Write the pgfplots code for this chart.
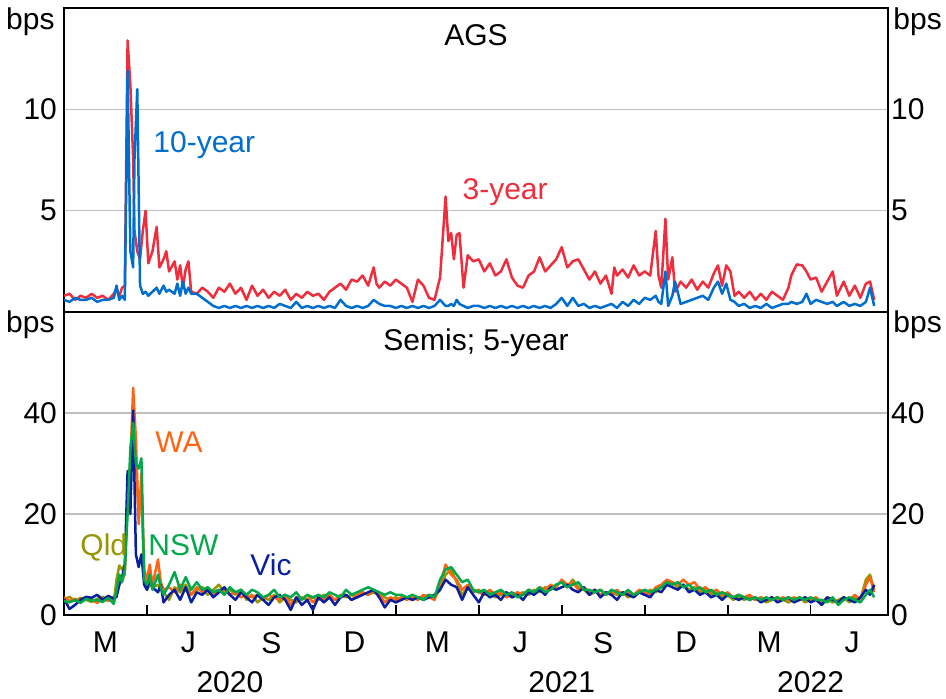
\documentclass[border=0pt]{standalone}
\usepackage{pgfplots}
\pgfplotsset{compat=1.18}
\usepackage{pgfplotstable}
\usepackage{fontspec}
\setmainfont{Liberation Sans}
\definecolor{cRed}{RGB}{240,45,60}
\definecolor{cBlue}{RGB}{0,110,205}
\definecolor{cWA}{RGB}{255,100,20}
\definecolor{cQld}{RGB}{150,150,0}
\definecolor{cNSW}{RGB}{0,170,75}
\definecolor{cVic}{RGB}{10,30,160}
\newcommand\f{\fontsize{15}{18}\selectfont}

\pgfplotstableread{
x r3 r10
0.0 0.8 0.6
0.2 0.9 0.5
0.4 0.6 0.7
0.6 0.8 0.6
0.8 0.7 0.6
1.0 0.9 0.7
1.2 0.7 0.5
1.4 0.8 0.6
1.6 0.6 0.6
1.8 0.9 0.7
1.9 1.1 1.3
2.0 0.8 0.6
2.1 1.2 0.8
2.2 1.3 0.6
2.3 13.4 11.9
2.4 11.2 3.0
2.5 7.6 2.2
2.55 4.0 7.6
2.65 3.0 11.0
2.75 2.6 1.3
2.85 4.0 0.9
2.95 5.0 1.0
3.05 2.4 0.8
3.2 3.0 1.0
3.35 4.2 1.2
3.45 2.2 0.9
3.6 2.6 1.3
3.7 3.0 1.0
3.8 2.0 1.1
4.0 2.5 0.9
4.1 1.6 1.4
4.2 2.3 0.8
4.3 1.2 1.5
4.4 2.1 0.9
4.5 2.5 1.2
4.6 1.0 0.9
4.8 0.9 0.9
5.0 1.2 0.7
5.2 1.0 0.5
5.4 0.7 0.3
5.6 1.2 0.2
5.8 1.0 0.3
6.0 1.4 0.2
6.2 0.9 0.3
6.4 1.2 0.2
6.6 0.6 0.3
6.8 1.3 0.2
7.0 0.8 0.3
7.2 1.1 0.2
7.4 0.7 0.3
7.6 1.0 0.2
7.8 0.8 0.4
8.0 1.1 0.3
8.2 0.6 0.2
8.4 0.9 0.5
8.6 0.7 0.2
8.8 1.0 0.3
9.0 0.8 0.2
9.2 0.9 0.3
9.4 0.6 0.2
9.6 1.0 0.3
9.8 1.2 0.2
10.0 1.4 0.6
10.2 1.1 0.3
10.4 1.6 0.2
10.6 1.5 0.3
10.8 1.8 0.2
11.0 1.3 0.3
11.2 2.2 0.6
11.3 1.4 0.5
11.4 1.2 0.4
11.6 1.5 0.3
11.8 1.3 0.3
12.0 1.6 0.2
12.2 1.4 0.3
12.4 1.2 0.2
12.6 0.5 0.3
12.8 1.6 0.2
13.0 1.3 0.3
13.2 0.7 0.2
13.4 0.6 0.3
13.6 1.7 0.6
13.8 5.7 0.3
13.9 3.5 0.3
14.0 3.9 0.4
14.1 2.6 0.3
14.2 3.8 0.6
14.3 3.9 0.4
14.45 1.2 0.3
14.6 2.8 0.2
14.8 2.5 0.3
15.0 2.6 0.3
15.2 2.0 0.2
15.4 2.4 0.3
15.6 1.8 0.2
15.8 2.0 0.3
16.0 2.6 0.2
16.2 1.7 0.3
16.4 1.3 0.2
16.6 1.2 0.3
16.8 1.8 0.2
17.0 2.0 0.3
17.2 2.7 0.2
17.4 2.0 0.3
17.6 2.3 0.2
17.8 2.6 0.4
18.0 3.2 0.7
18.2 2.2 0.3
18.4 2.5 0.7
18.6 2.6 0.3
18.8 2.1 0.4
19.0 1.6 0.2
19.2 2.0 0.3
19.4 1.4 0.2
19.6 1.8 0.3
19.8 0.9 0.4
19.9 2.2 0.3
20.0 1.8 0.2
20.2 2.1 0.5
20.4 1.7 0.3
20.6 2.3 0.6
20.8 1.8 0.4
21.0 2.0 0.7
21.2 1.8 0.6
21.4 4.0 0.8
21.5 1.8 0.5
21.6 1.2 0.4
21.75 4.6 2.0
21.85 1.6 0.3
22.0 2.7 0.8
22.1 1.0 1.5
22.3 1.5 0.4
22.5 1.2 0.5
22.7 1.6 0.6
22.9 1.1 0.7
23.1 1.5 0.8
23.3 1.2 0.6
23.5 1.9 1.2
23.65 2.3 1.5
23.8 1.3 0.9
23.95 2.3 1.4
24.1 2.0 0.6
24.25 0.8 0.5
24.4 1.0 0.3
24.6 0.7 0.4
24.8 1.0 0.2
25.0 0.6 0.3
25.2 0.9 0.2
25.4 0.6 0.4
25.6 1.0 0.2
25.8 0.8 0.3
26.0 0.6 0.4
26.2 1.2 0.4
26.3 1.8 0.5
26.5 2.35 0.4
26.7 2.3 0.5
26.85 2.0 0.9
27.0 1.6 0.4
27.2 1.7 0.6
27.4 1.0 0.5
27.6 1.5 0.4
27.8 2.0 0.5
27.95 0.8 0.3
28.2 1.5 0.5
28.4 0.8 0.3
28.6 1.3 0.4
28.8 0.7 0.3
29.0 1.4 0.5
29.15 1.5 1.2
29.3 0.6 0.3
}\ags

\pgfplotstableread{
x wa qld nsw vic
0.0 3.5 3.0 2.8 3.2
0.2 2.8 3.6 2.5 1.2
0.4 3.2 2.8 3.0 2.0
0.6 2.6 3.4 2.4 3.0
0.8 3.4 3.0 3.2 3.6
1.0 3.0 2.6 2.8 3.4
1.2 2.4 3.2 3.0 4.0
1.4 3.2 3.6 2.6 3.0
1.6 2.8 3.0 3.4 3.8
1.8 3.6 2.6 2.2 3.2
1.9 4.0 7.0 5.0 3.6
2.0 6.0 9.8 8.0 6.0
2.1 7.0 9.0 6.5 7.5
2.2 8.0 10.0 9.0 10.0
2.3 25.0 22.0 20.0 28.5
2.4 30.0 28.0 33.0 20.0
2.5 45.0 38.0 38.0 40.5
2.6 35.0 30.0 30.0 12.0
2.7 18.0 20.0 29.0 9.5
2.8 28.0 25.0 31.0 12.0
2.9 9.0 7.0 7.0 6.0
3.0 7.0 5.0 6.0 5.0
3.1 10.0 6.0 8.0 7.0
3.2 6.0 5.5 5.0 5.5
3.4 11.0 6.0 8.0 4.5
3.5 6.5 5.0 5.5 6.0
3.6 5.0 4.5 4.0 2.5
3.8 5.5 3.0 6.0 4.0
4.0 4.5 5.5 8.5 5.0
4.2 6.0 4.5 5.0 3.0
4.4 5.0 6.0 7.5 5.5
4.6 4.0 4.0 5.0 2.5
4.8 5.5 5.0 6.5 4.5
5.0 4.5 5.5 5.0 4.0
5.2 5.0 4.0 5.5 5.0
5.4 4.0 5.0 4.5 3.5
5.6 4.5 6.0 5.0 4.5
5.8 5.0 4.5 4.0 5.5
6.0 4.0 5.0 5.5 4.0
6.2 4.5 4.0 4.5 3.0
6.4 3.5 5.0 5.0 4.5
6.6 4.0 3.0 4.0 3.5
6.8 3.5 4.0 5.0 2.5
7.0 4.0 2.5 4.5 4.0
7.2 3.0 3.5 3.5 3.0
7.4 4.0 3.0 4.0 2.0
7.6 3.5 4.0 5.0 3.5
7.8 3.0 2.5 3.5 4.0
8.0 4.0 3.5 4.0 3.0
8.2 2.0 3.0 3.5 1.0
8.4 3.5 2.5 4.5 3.5
8.6 3.0 3.5 3.0 2.0
8.8 4.0 3.0 4.0 3.0
9.0 2.5 3.5 3.5 1.0
9.2 3.5 3.0 4.0 3.5
9.4 3.0 4.0 3.5 2.5
9.6 4.0 3.5 4.5 3.5
9.8 3.0 3.0 4.0 2.0
10.0 3.5 4.0 3.5 3.5
10.2 4.0 3.5 5.0 4.0
10.4 3.0 4.0 4.0 3.0
10.6 4.0 3.5 4.5 3.5
10.8 4.5 4.5 5.0 4.0
11.0 4.0 4.0 5.5 4.5
11.2 5.0 4.5 5.0 5.0
11.4 4.0 4.0 4.5 3.5
11.6 2.5 3.5 4.0 1.5
11.8 3.5 3.0 4.5 3.0
12.0 3.0 3.5 4.0 2.5
12.2 3.5 3.0 4.0 3.0
12.4 3.0 3.5 3.5 3.5
12.6 3.5 3.0 4.0 3.0
12.8 3.0 3.5 3.5 3.5
13.0 4.0 3.5 3.0 3.0
13.2 3.5 4.0 4.0 3.5
13.4 3.0 3.5 3.5 4.0
13.6 6.0 5.0 7.0 5.0
13.8 10.0 8.0 9.0 7.0
14.0 8.0 9.0 9.5 6.0
14.2 7.0 6.5 8.0 5.5
14.4 5.0 4.0 6.5 3.0
14.6 6.0 5.5 7.0 5.5
14.8 5.0 4.5 5.0 4.0
15.0 4.5 5.0 4.5 2.5
15.2 4.0 4.0 5.0 4.5
15.4 5.0 4.5 4.0 3.5
15.6 4.0 3.5 4.5 4.0
15.8 4.5 4.0 5.0 3.0
16.0 3.5 4.5 4.0 4.5
16.2 4.0 3.5 4.5 3.5
16.4 4.5 4.0 3.5 4.0
16.6 4.0 4.5 4.0 3.0
16.8 5.0 4.0 5.0 4.5
17.0 4.5 5.0 4.5 4.0
17.2 5.5 4.5 5.5 5.0
17.4 5.0 5.5 4.5 4.0
17.6 6.0 5.0 5.0 5.5
17.8 5.5 6.0 6.0 5.0
18.0 7.0 6.5 6.5 5.5
18.2 6.0 5.5 5.5 6.0
18.4 6.5 7.0 6.0 5.0
18.6 5.0 5.5 6.5 4.5
18.8 5.5 5.0 5.0 5.5
19.0 4.5 4.0 5.0 4.0
19.2 5.0 4.5 4.5 5.0
19.4 4.0 5.0 5.0 3.5
19.6 4.5 4.0 4.0 4.5
19.8 4.0 4.5 5.0 4.0
20.0 5.0 4.0 4.5 3.0
20.2 4.0 4.5 4.0 4.5
20.4 4.5 3.5 5.0 4.0
20.6 4.0 4.0 4.0 3.5
20.8 5.0 4.5 4.5 4.5
21.0 4.5 4.0 5.0 4.0
21.2 4.0 5.0 4.5 3.5
21.4 5.5 4.5 5.0 5.0
21.6 6.0 5.5 5.5 4.5
21.8 7.0 6.0 6.5 6.0
22.0 6.5 6.5 6.0 5.5
22.2 6.0 5.5 6.5 5.0
22.4 7.0 6.0 5.5 6.0
22.6 6.0 5.0 6.0 4.5
22.8 6.5 5.5 5.0 5.0
23.0 5.0 4.5 5.5 4.0
23.2 5.5 5.0 4.5 4.5
23.4 4.5 4.0 5.0 3.5
23.6 5.0 4.5 4.0 4.0
23.8 4.0 3.5 4.5 3.0
24.0 4.5 4.0 4.0 4.0
24.2 3.5 3.0 3.5 3.5
24.4 4.0 3.5 4.0 3.0
24.6 3.5 3.0 3.5 3.5
24.8 4.0 3.5 3.0 3.0
25.0 3.0 3.0 3.5 3.5
25.2 3.5 3.5 3.0 2.5
25.4 3.0 2.5 3.5 3.0
25.6 3.5 3.0 3.0 3.5
25.8 3.0 3.5 3.5 2.5
26.0 3.5 3.0 3.0 3.0
26.2 3.0 2.5 3.5 3.5
26.4 3.5 3.0 3.0 2.5
26.6 3.0 3.5 3.5 3.0
26.8 3.5 2.5 3.0 3.5
27.0 3.0 3.0 3.5 2.5
27.2 3.5 3.5 3.0 3.0
27.4 2.5 2.0 3.0 2.0
27.6 3.5 3.0 2.5 3.5
27.8 3.0 2.5 3.5 3.0
28.0 2.5 3.0 2.0 2.5
28.2 3.5 3.5 3.0 3.5
28.4 3.0 2.5 3.5 3.0
28.6 4.0 3.5 3.0 2.5
28.8 3.0 3.0 2.5 3.5
29.0 6.0 7.0 4.0 5.0
29.15 7.5 8.0 5.0 4.0
29.3 4.5 5.0 3.5 6.0
}\semis

\pgfplotsset{
  base/.style={
    width=412pt, scale only axis, xmin=0, xmax=29.8,
    axis line style={line width=0.9pt, black},
    tick label style={font=\f},
    /pgf/number format/assume math mode=true,
    clip mode=individual,
    every axis plot/.append style={line width=1.25pt, line join=round},
  },
  grd/.style={ymajorgrids, grid style={draw=black!25, line width=0.8pt}, ytick style={draw=none}},
  rightax/.style={
    width=412pt, scale only axis, xmin=0, xmax=29.8,
    axis y line*=right, axis x line=none,
    axis line style={line width=0.9pt, black},
    tick label style={font=\f},
    /pgf/number format/assume math mode=true,
    ytick style={draw=none},
    yticklabel style={xshift=-2pt},
  },
}

\begin{document}
\begin{tikzpicture}
\path[use as bounding box] (-32pt,-41.5pt) rectangle (441pt,307.5pt);

% ---------- bottom panel ----------
\begin{axis}[base, grd, at={(0,0)}, anchor=south west, height=151.5pt,
  ymin=0, ymax=60, ytick={0,20,40},
  xtick={3,6,...,27}, xticklabels={}, xtick pos=bottom, xtick align=inside,
  major tick length=5pt,
  x tick style={line width=0.9pt, black},
  extra x ticks={1.5,4.5,...,28.5},
  extra x tick labels={M,J,S,D,M,J,S,D,M,J},
  extra x tick style={major tick length=0pt, xticklabel style={yshift=-5pt}},
]
\addplot[cQld, no marks] table[x=x, y=qld] {\semis};
\addplot[cWA, no marks] table[x=x, y=wa] {\semis};
\addplot[cVic, no marks] table[x=x, y=vic] {\semis};
\addplot[cNSW, no marks] table[x=x, y=nsw] {\semis};
\node[font=\f, anchor=center] at (rel axis cs:0.5,0.9) {Semis; 5-year};
\node[font=\f, text=cWA, anchor=west, inner sep=0pt] at (axis cs:3.29,34.3) {WA};
\node[font=\f, text=cQld, anchor=west, inner sep=0pt] at (axis cs:0.58,13.3) {Qld};
\node[font=\f, text=cNSW, anchor=west, inner sep=0pt] at (axis cs:3.04,13.9) {NSW};
\node[font=\f, text=cVic, anchor=west, inner sep=0pt] at (axis cs:6.73,9.9) {Vic};
\node[font=\f, inner sep=0pt, anchor=east] at ([xshift=-4.5pt, yshift=-6.5pt]rel axis cs:0,1) {bps};
\node[font=\f, inner sep=0pt, anchor=west] at ([xshift=2.5pt, yshift=-6.5pt]rel axis cs:1,1) {bps};
\node[font=\f] at ([yshift=-33.5pt]axis cs:6,0) {2020};
\node[font=\f] at ([yshift=-33.5pt]axis cs:18,0) {2021};
\node[font=\f] at ([yshift=-33.5pt]axis cs:27,0) {2022};
\end{axis}
\begin{axis}[rightax, at={(0,0)}, anchor=south west, height=151.5pt,
  ymin=0, ymax=60, ytick={0,20,40}]
\addplot[draw=none] coordinates {(0,0)};
\end{axis}

% ---------- top panel ----------
\begin{axis}[base, grd, at={(0,151.5pt)}, anchor=south west, height=152pt,
  ymin=0, ymax=15, ytick={5,10}, xtick=\empty]
\addplot[cRed, no marks] table[x=x, y=r3] {\ags};
\addplot[cBlue, no marks] table[x=x, y=r10] {\ags};
\node[font=\f, anchor=center] at (rel axis cs:0.5,0.91) {AGS};
\node[font=\f, text=cBlue, anchor=west, inner sep=0pt] at (axis cs:3.22,8.24) {10-year};
\node[font=\f, text=cRed, anchor=west, inner sep=0pt] at (axis cs:14.4,5.9) {3-year};
\node[font=\f, inner sep=0pt, anchor=east] at ([xshift=-4.5pt, yshift=-7pt]rel axis cs:0,1) {bps};
\node[font=\f, inner sep=0pt, anchor=west] at ([xshift=2.5pt, yshift=-7pt]rel axis cs:1,1) {bps};
\end{axis}
\begin{axis}[rightax, at={(0,151.5pt)}, anchor=south west, height=152pt,
  ymin=0, ymax=15, ytick={5,10}]
\addplot[draw=none] coordinates {(0,0)};
\end{axis}
\end{tikzpicture}
\end{document}
